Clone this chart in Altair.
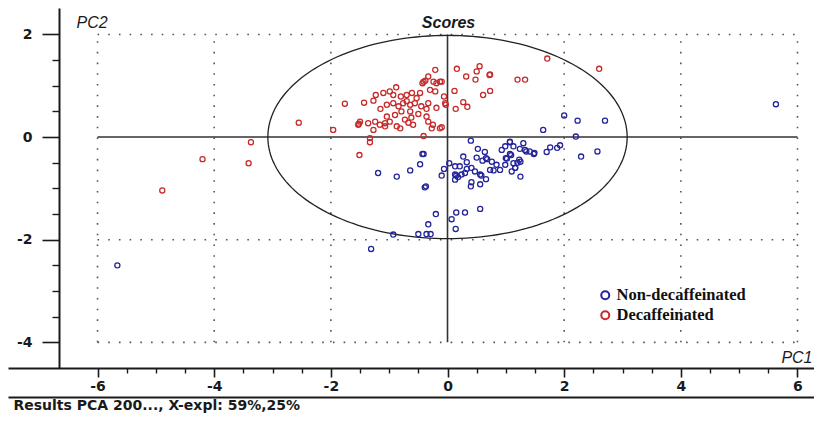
import altair as alt
import pandas as pd
import numpy as np

# ---------------- data ----------------
RED_X = [-4.89, -4.20, -3.41, -3.37, -2.55, -1.96, -1.76, -1.43, -1.27, -1.23, -1.10, -0.99,
         -0.88, -0.93, -0.80, -0.70, -0.61, -0.47, -0.41, -0.38, -0.43, -0.33, -0.21, -0.24,
         -0.19, -0.13, -0.30, -0.21, -0.53, -1.04, -0.93, -0.84, -0.76, -0.64, -0.56, -0.33,
         -0.36, -0.19, -0.06, -0.03, -0.04, -0.64, -0.79, -0.90, -1.04, -0.99, -1.07, -1.16,
         -1.24, -1.36, -1.50, -1.52, -1.53, -1.27, -1.33, -1.33, -1.07, -0.81, -0.73, -0.67,
         -0.59, -0.41, -0.36, -0.33, -0.27, -0.13, -0.87, -1.51, 0.16, 0.32, 0.48, 0.50,
         0.55, 0.72, 0.73, 1.20, 1.33, 1.71, 2.60, 0.12, 0.61, 0.73, 0.27, 0.34, 0.14,
         -0.10, -0.10, -0.25, -1.15, -0.70, -0.50, -0.62, -0.45]
RED_Y = [-1.04, -0.43, -0.51, -0.10, 0.28, 0.14, 0.65, 0.67, 0.71, 0.82, 0.86, 0.89,
         0.97, 0.82, 0.79, 0.82, 0.86, 0.86, 1.08, 1.10, 1.05, 1.18, 1.31, 1.08,
         1.05, 1.08, 0.92, 0.89, 0.76, 0.63, 0.66, 0.60, 0.66, 0.63, 0.66, 0.66,
         0.55, 0.57, 0.79, 0.63, 0.66, 0.50, 0.50, 0.43, 0.40, 0.30, 0.27, 0.24,
         0.30, 0.27, 0.30, 0.26, 0.24, 0.14, -0.02, -0.10, 0.21, 0.17, 0.34, 0.28,
         0.24, 0.02, 0.40, 0.30, 0.17, 0.17, 0.21, -0.35, 1.33, 1.18, 1.12, 1.28,
         1.38, 1.21, 1.22, 1.12, 1.12, 1.53, 1.33, 0.90, 0.82, 0.90, 0.68, 0.59, 0.55,
         1.08, 0.19, 0.24, 0.55, 0.70, 0.45, 0.38, 0.60]

BLUE_X = [-5.66, 5.63, 2.00, 2.23, 2.70, 1.64, 2.20, 1.93, 1.88, 1.76, 1.70, 2.29, 2.57,
          1.49, 1.41, 1.33, 1.30, 1.25, 1.25, 1.16, 1.10, 1.07, 1.13, 0.40, 0.52, 0.64,
          0.27, -0.43, -0.47, -0.64, -0.39, -0.37, -0.06, -0.10, 0.03, 0.13, 0.13, 0.15,
          0.24, 0.13, 0.21, 0.33, 0.41, 0.41, 0.40, 0.56, 0.56, 0.58, 0.47, 0.60, 0.66,
          0.68, 0.76, 0.73, 0.84, 0.93, 0.99, 1.07, 1.07, 1.09, 1.00, 1.13, 1.16, 1.23,
          1.24, 1.35, 0.99, 0.90, 0.50, 0.33, -1.19, -0.87, -0.41, -0.20, 0.15, 0.30,
          0.56, 0.07, -0.33, 0.14, -0.93, -0.50, -0.36, -0.29, -1.31, 0.79, 0.66, 1.48,
          1.02, 1.20, 0.30, 0.18]
BLUE_Y = [-2.50, 0.64, 0.42, 0.32, 0.32, 0.14, 0.01, -0.16, -0.21, -0.20, -0.29, -0.38, -0.28,
          -0.31, -0.28, -0.25, -0.12, -0.48, -0.77, -0.60, -0.67, -0.09, -0.18, -0.07, -0.23, -0.29,
          -0.38, -0.33, -0.53, -0.65, -0.98, -0.96, -0.62, -0.75, -0.51, -0.57, -0.73, -0.75,
          -0.73, -0.83, -0.57, -0.49, -0.60, -0.88, -0.96, -0.92, -0.73, -0.75, -0.67, -0.46, -0.41,
          -0.43, -0.48, -0.64, -0.54, -0.25, -0.18, -0.10, -0.33, -0.35, -0.41, -0.51, -0.60, -0.44,
          -0.23, -0.28, -0.54, -0.64, -0.40, -0.62, -0.70, -0.77, -0.33, -1.50, -1.47, -1.47,
          -1.40, -1.60, -1.70, -1.79, -1.90, -1.89, -1.89, -1.89, -2.18, -0.65, -0.82, -0.33,
          -0.42, -0.50, -0.70, -0.78]

GROUPS = ["Non-decaffeinated", "Decaffeinated"]
COLORS = ["#23239a", "#c62a2a"]

X_MAJOR = [-6, -4, -2, 0, 2, 4, 6]
X_MINOR = [-5.5, -5, -4.5, -3.5, -3, -2.5, -1.5, -1, -0.5, 0.5, 1, 1.5, 2.5, 3, 3.5, 4.5, 5, 5.5]
Y_MAJOR = [2, 0, -2, -4]
Y_MINOR = [1.5, 1, 0.5, -0.5, -1, -1.5, -2.5, -3, -3.5]

GRID_X = [-6, -4, -2, 2, 4, 6]
GRID_Y = [2, -2, -4]
GRID_SPAN_X = [-6, 6]
GRID_SPAN_Y = [-4, 2]

ELLIPSE_A = 3.08
ELLIPSE_B = 1.98

X_DOMAIN = [-7.535, 6.283]
Y_DOMAIN = [-4.50, 2.515]

FOOTER = "Results PCA 200..., X-expl: 59%,25%"

# ---------------- tables ----------------
df = pd.DataFrame({
    "PC1": RED_X + BLUE_X,
    "PC2": RED_Y + BLUE_Y,
    "group": [GROUPS[1]] * len(RED_X) + [GROUPS[0]] * len(BLUE_X),
})
gx = pd.DataFrame({"x": GRID_X, "y1": GRID_SPAN_Y[0], "y2": GRID_SPAN_Y[1]})
gy = pd.DataFrame({"y": GRID_Y, "x1": GRID_SPAN_X[0], "x2": GRID_SPAN_X[1]})
zx = pd.DataFrame({"x": [0], "y1": GRID_SPAN_Y[0], "y2": GRID_SPAN_Y[1]})
zy = pd.DataFrame({"y": [0], "x1": GRID_SPAN_X[0], "x2": GRID_SPAN_X[1]})
t = np.linspace(0, 2 * np.pi, 181)
ell = pd.DataFrame({"x": ELLIPSE_A * np.cos(t), "y": ELLIPSE_B * np.sin(t), "o": np.arange(len(t))})

xs = alt.Scale(domain=X_DOMAIN, nice=False, zero=False)
ys = alt.Scale(domain=Y_DOMAIN, nice=False, zero=False)

FONT = "Liberation Sans"
TICKFONT = "DejaVu Sans"
INK = "#1a1a1a"

grid_v = alt.Chart(gx).mark_rule(strokeDash=[1.6, 9.1], strokeWidth=1.6, color="#555").encode(
    x=alt.X("x:Q", scale=xs, axis=None),
    y=alt.Y("y1:Q", scale=ys, axis=None), y2="y2:Q")
grid_h = alt.Chart(gy).mark_rule(strokeDash=[1.6, 9.1], strokeWidth=1.6, color="#555").encode(
    y=alt.Y("y:Q", scale=ys, axis=None),
    x=alt.X("x1:Q", scale=xs, axis=None), x2="x2:Q")
zero_v = alt.Chart(zx).mark_rule(strokeWidth=1.6, color="#333").encode(
    x=alt.X("x:Q", scale=xs, axis=None),
    y=alt.Y("y1:Q", scale=ys, axis=None), y2="y2:Q")
zero_h = alt.Chart(zy).mark_rule(strokeWidth=1.6, color="#333").encode(
    y=alt.Y("y:Q", scale=ys, axis=None),
    x=alt.X("x1:Q", scale=xs, axis=None), x2="x2:Q")
ellipse = alt.Chart(ell).mark_line(color="#222", strokeWidth=1.3).encode(
    x=alt.X("x:Q", scale=xs, axis=None),
    y=alt.Y("y:Q", scale=ys, axis=None),
    order="o:Q")

points = alt.Chart(df).mark_point(shape="circle", filled=False, size=26, strokeWidth=1.3, opacity=1).encode(
    x=alt.X("PC1:Q", scale=xs, axis=alt.Axis(
        orient="bottom", values=X_MAJOR, tickSize=9, tickWidth=1.6, tickColor=INK,
        domainColor=INK, domainWidth=2, grid=False,
        labelFont=TICKFONT, labelFontWeight="bold", labelFontSize=14, labelColor=INK,
        labelPadding=2, labelFlush=False, labelOverlap=False, labelExpr="datum.value + ''",
        title="PC1", titleX=804, titleY=-11, titleAlign="right", titleBaseline="middle",
        titleFont=FONT, titleFontStyle="italic", titleFontWeight="normal", titleFontSize=16,
        titleColor=INK)),
    y=alt.Y("PC2:Q", scale=ys, axis=alt.Axis(
        orient="left", offset=-51, values=Y_MAJOR, tickSize=17, tickWidth=1.6, tickColor=INK,
        domainColor=INK, domainWidth=2, grid=False,
        labelFont=TICKFONT, labelFontWeight="bold", labelFontSize=14, labelColor=INK,
        labelPadding=10, labelFlush=False, labelOverlap=False, labelExpr="datum.value + ''",
        title="PC2", titleAngle=0, titleX=17, titleY=14.5, titleAlign="left", titleBaseline="middle",
        titleFont=FONT, titleFontStyle="italic", titleFontWeight="normal", titleFontSize=16,
        titleColor=INK)),
    color=alt.Color("group:N", scale=alt.Scale(domain=GROUPS, range=COLORS), legend=alt.Legend(
        orient="none", legendX=589, legendY=279, title=None, symbolType="circle", symbolSize=64,
        symbolStrokeWidth=2, labelFont="Liberation Serif", labelFontSize=16.5, labelFontWeight="bold",
        labelColor="#111", labelOffset=3, rowPadding=3, padding=0)),
)

minor = alt.Chart(df).mark_point(opacity=0).encode(
    x=alt.X("PC1:Q", scale=xs, axis=alt.Axis(
        orient="bottom", values=X_MINOR, tickSize=5, tickWidth=1.4, tickColor=INK,
        labels=False, domain=False, grid=False, title=None)),
    y=alt.Y("PC2:Q", scale=ys, axis=alt.Axis(
        orient="left", offset=-51, values=Y_MINOR, tickSize=7, tickWidth=1.4, tickColor=INK,
        labels=False, domain=False, grid=False, title=None)),
)

footer = alt.Chart(df).mark_point(opacity=0).encode(
    x=alt.X("PC1:Q", scale=xs, axis=alt.Axis(
        orient="bottom", offset=29, ticks=False, labels=False, grid=False,
        domainColor=INK, domainWidth=2,
        title=FOOTER, titleX=5, titleY=8.5, titleAlign="left", titleBaseline="middle",
        titleFont=TICKFONT, titleFontWeight="bold", titleFontSize=14, titleColor=INK)),
)

header = alt.Chart(df).mark_point(opacity=0).encode(
    x=alt.X("PC1:Q", scale=xs, axis=alt.Axis(
        orient="top", ticks=False, labels=False, domain=False, grid=False,
        title="Scores", titleX=440, titleY=14.5, titleAlign="center", titleBaseline="middle",
        titleFont=FONT, titleFontStyle="italic", titleFontWeight="bold", titleFontSize=16,
        titleColor=INK)),
)

chart = alt.layer(grid_v, grid_h, zero_v, zero_h, ellipse, points, minor, footer, header).resolve_axis(
    x="independent", y="independent"
).properties(
    width=806, height=360,
    autosize=alt.AutoSizeParams(type="none"),
    padding={"left": 0, "top": 0, "right": 0, "bottom": 45},
    background="white",
).configure_view(stroke=None)

chart.save("out.html", embed_options={"renderer": "svg", "actions": False})
